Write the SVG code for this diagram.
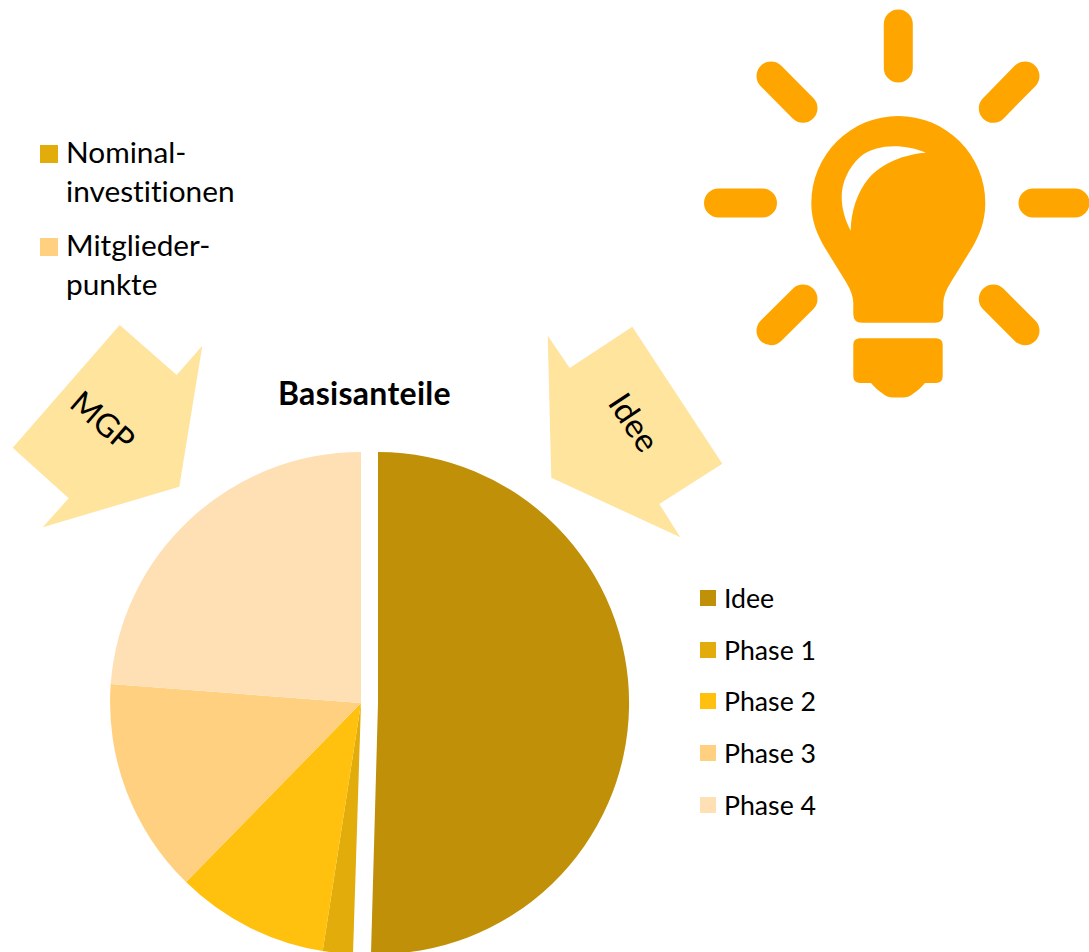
<svg xmlns="http://www.w3.org/2000/svg" width="1089" height="952" viewBox="0 0 1089 952">
<style>
text{font-family:"Lato","Open Sans","Liberation Sans",sans-serif;fill:#000;font-variant-ligatures:none}
.lg{font-size:29.800px}
.ph{font-size:26.700px}
.arrow{fill:#FFE49E}
.bulb{fill:#FFA500}
.ray{stroke:#FFA500;stroke-width:29;stroke-linecap:round;fill:none}
</style>
<rect width="1089" height="952" fill="#fff"/>
<g id="lightbulb">
<path class="ray" d="M898.300 24V68M718.500 203H762.500M1033 203H1075M771 76L803 108.300M1025 76L993.300 108.300M803 299L771 330.700M993.300 299L1025 330.700"/>
<path class="bulb" d="M898.300 116A87 87 0 0 1 985.300 203C985.300 222 979 236 972 248L951 282Q943.300 294 943.300 303V314Q943.300 322.700 935 322.700H862Q853.300 322.700 853.300 314V303Q853.300 294 846 282L825 248C818 236 811.300 222 811.300 203A87 87 0 0 1 898.300 116Z"/>
<path fill="#fff" d="M926 152.700C905 144 877 143 860 157C848 168 841.700 183 841.700 197C841.700 210 846 222 850.700 230.700C851 212 857 192 869 178C882 163 905 154 926 152.700Z"/>
<path class="bulb" d="M860 338.300H936Q942.700 338.300 942.700 345V376Q942.700 383 936 383H925Q919 390 914 393Q909 397.500 903 397.500H893Q887 397.500 882 393Q877 390 871 383H860Q853.300 383 853.300 376V345Q853.300 338.300 860 338.300Z"/>
</g>
<g id="legend-top">
<rect x="40" y="145" width="18" height="18" fill="#E2AC0A"/>
<text class="lg" x="66" y="163">Nominal-</text>
<text class="lg" x="66" y="202">investitionen</text>
<rect x="40" y="238" width="18" height="18" fill="#FFD080"/>
<text class="lg" x="66" y="256">Mitglieder-</text>
<text class="lg" x="66" y="295">punkte</text>
</g>
<g id="arrow-mgp">
<polygon class="arrow" points="119.700,325 176.700,375 202.300,345.700 179.300,486.700 42.700,527.300 68.700,498.300 12.700,447.700"/>
<text font-size="32" transform="translate(68,406) rotate(41)">MGP</text>
</g>
<g id="arrow-idee">
<polygon class="arrow" points="632.300,326.700 722.300,463.700 659.300,504 680.300,537.300 551.300,477.700 547.700,335.700 569.700,368"/>
<text font-size="33" transform="translate(607,403) rotate(56.500)">Idee</text>
</g>
<text id="title" x="278" y="405" font-size="32" font-weight="700" letter-spacing="0.300">Basisanteile</text>
<g id="pie">
<path id="slice-idee" fill="#BF9008" d="M378 703V452A251 251 0 1 1 371 953.900Z"/>
<path id="slice-phase1" fill="#E2AC0A" d="M361 703L353 953.900A251 251 0 0 1 322.700 951Z"/>
<path id="slice-phase2" fill="#FFC10E" d="M361 703L322.700 951A251 251 0 0 1 186 882Z"/>
<path id="slice-phase3" fill="#FFD080" d="M361 703L186 882A251 251 0 0 1 110.700 684Z"/>
<path id="slice-phase4" fill="#FFDFB4" d="M361 703L110.700 684A251 251 0 0 1 361 452Z"/>
</g>
<g id="legend-pie">
<rect x="700" y="590" width="16" height="16" fill="#BF9008"/>
<text class="ph" x="724" y="608">Idee</text>
<rect x="700" y="642" width="16" height="16" fill="#E2AC0A"/>
<text class="ph" x="724" y="660">Phase 1</text>
<rect x="700" y="693" width="16" height="16" fill="#FFC10E"/>
<text class="ph" x="724" y="711">Phase 2</text>
<rect x="700" y="745" width="16" height="16" fill="#FFD080"/>
<text class="ph" x="724" y="763">Phase 3</text>
<rect x="700" y="797" width="16" height="16" fill="#FFDFB4"/>
<text class="ph" x="724" y="815">Phase 4</text>
</g>
</svg>
